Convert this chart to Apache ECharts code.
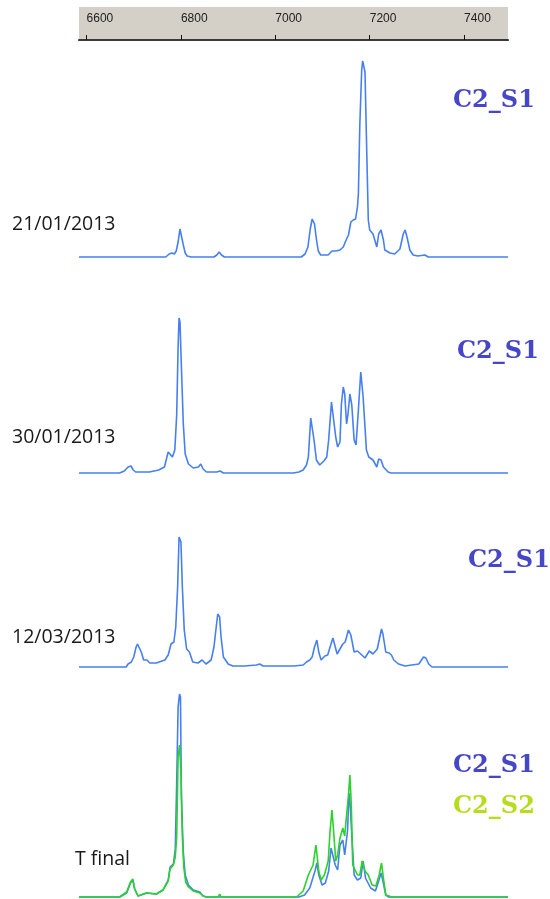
<!DOCTYPE html>
<html>
<head>
<meta charset="utf-8">
<script src="https://cdn.jsdelivr.net/npm/echarts@6/dist/echarts.min.js"></script>
<style>
html,body{margin:0;padding:0;background:#fff;}
#chart{width:550px;height:899px;}
</style>
</head>
<body>
<div id="chart"></div>
<script>
// Wavenumber range and ruler tick labels
var waveMin = 6584, waveMax = 7493;
var rulerTicks = [6600, 6800, 7000, 7200, 7400];

// Panel labels
var dateLabels = ['21/01/2013', '30/01/2013', '12/03/2013', 'T final'];
var sampleS1 = 'C2_S1';
var sampleS2 = 'C2_S2';

// Spectra: [wavenumber, intensity]
var spec_21_01_S1 = [[6584,0],[6768,0],[6775,3],[6781,4],[6786,3],[6790,6],[6794,15],[6798,28],[6800,30],[6802,26],[6805,12],[6809,4],[6813,1],[6822,0],[6870,0],[6876,2],[6881,5],[6886,2],[6892,0],[7055,0],[7063,3],[7069,10],[7074,28],[7078,38],[7080,39],[7083,33],[7087,18],[7091,6],[7096,2],[7103,2],[7112,2],[7120,6],[7128,6],[7137,7],[7144,10],[7150,17],[7155,22],[7160,35],[7165,37],[7170,38],[7174,50],[7176,63],[7179,132],[7183,187],[7185,196],[7188,194],[7190,185],[7193,120],[7197,37],[7200,27],[7207,23],[7215,10],[7219,23],[7224,27],[7229,17],[7232,7],[7243,4],[7253,3],[7264,8],[7271,23],[7275,27],[7279,20],[7285,7],[7292,2],[7302,1],[7317,2],[7324,0],[7493,0]];

var spec_30_01_S1 = [[6584,0],[6670,0],[6680,2],[6688,6],[6694,7],[6699,3],[6704,1],[6733,1],[6753,3],[6765,6],[6769,8],[6773,21],[6777,23],[6782,16],[6787,23],[6791,58],[6794,126],[6796,155],[6798,151],[6801,106],[6805,49],[6809,19],[6816,9],[6826,5],[6837,6],[6842,9],[6847,4],[6854,1],[6876,1],[6883,2],[6890,0],[7038,0],[7050,1],[7059,3],[7066,8],[7070,16],[7075,55],[7078,56],[7082,33],[7087,13],[7094,8],[7103,12],[7109,16],[7113,33],[7119,71],[7123,71],[7128,36],[7132,26],[7137,31],[7140,69],[7144,86],[7147,79],[7151,49],[7154,59],[7158,79],[7162,68],[7167,33],[7171,28],[7176,63],[7181,101],[7184,103],[7186,76],[7190,46],[7193,23],[7198,16],[7207,13],[7215,6],[7219,14],[7224,13],[7229,6],[7239,1],[7245,0],[7493,0]];

var spec_12_03_S1 = [[6584,0],[6605,0],[6607,1],[6609,0],[6626,0],[6628,1],[6630,0],[6684,0],[6688,3],[6695,5],[6700,10],[6705,20],[6708,23],[6711,25],[6716,15],[6721,7],[6728,7],[6734,4],[6748,4],[6766,7],[6773,12],[6779,23],[6785,25],[6789,40],[6793,80],[6796,130],[6798,131],[6800,125],[6803,80],[6807,37],[6812,18],[6818,15],[6825,5],[6836,4],[6845,7],[6853,3],[6864,7],[6870,20],[6874,37],[6878,53],[6880,52],[6882,50],[6885,30],[6890,10],[6900,3],[6910,1],[6935,1],[6960,2],[6967,3],[6974,1],[6984,1],[7040,1],[7059,2],[7066,5],[7073,7],[7078,10],[7083,20],[7088,27],[7092,15],[7097,7],[7105,11],[7111,12],[7116,20],[7122,29],[7127,20],[7131,13],[7137,18],[7143,23],[7148,25],[7155,37],[7160,32],[7167,15],[7174,16],[7181,13],[7190,9],[7199,16],[7207,13],[7216,18],[7225,38],[7228,33],[7234,15],[7241,14],[7246,12],[7251,7],[7261,3],[7275,1],[7289,2],[7304,3],[7314,10],[7319,9],[7325,3],[7332,0],[7386,0],[7388,1],[7390,0],[7493,0]];

var spec_final_S1 = [[6584,0],[6670,0],[6685,4],[6693,14],[6698,17],[6702,8],[6709,1],[6727,4],[6748,3],[6762,7],[6773,17],[6777,30],[6784,33],[6788,48],[6791,115],[6794,190],[6797,203],[6799,200],[6801,100],[6805,45],[6809,22],[6816,12],[6826,7],[6840,5],[6847,1],[6854,0],[6879,0],[6882,2],[6885,0],[7050,0],[7062,2],[7073,9],[7084,26],[7088,34],[7092,22],[7099,12],[7106,14],[7113,26],[7118,49],[7122,51],[7127,32],[7132,27],[7137,52],[7143,57],[7147,42],[7153,66],[7156,104],[7159,89],[7162,62],[7167,22],[7174,17],[7181,19],[7186,36],[7191,19],[7202,9],[7212,6],[7219,16],[7224,24],[7228,16],[7234,2],[7240,0],[7493,0]];

var spec_final_S2 = [[6584,0],[6670,0],[6685,5],[6693,15],[6698,18],[6702,8],[6709,1],[6727,4],[6748,3],[6762,7],[6773,16],[6777,28],[6784,32],[6788,40],[6791,60],[6794,140],[6797,152],[6800,125],[6803,60],[6806,30],[6810,15],[6816,10],[6826,6],[6840,4],[6847,1],[6854,0],[6879,0],[6882,3],[6885,0],[7045,0],[7059,6],[7070,22],[7080,32],[7086,52],[7088,52],[7092,26],[7097,17],[7104,22],[7112,36],[7116,66],[7120,87],[7123,69],[7128,36],[7132,42],[7137,59],[7143,69],[7147,61],[7151,82],[7155,102],[7158,122],[7161,92],[7164,32],[7168,32],[7174,22],[7179,22],[7184,36],[7190,26],[7197,22],[7205,12],[7213,11],[7220,22],[7225,34],[7229,19],[7234,2],[7247,0],[7493,0]];

var panelMax = [200, 160, 135, 205];

var blue = '#4680f0';
var green = '#2ad22a';
var labelBlue = '#4646c8';
var labelGreen = '#b6dc1e';

var chart = echarts.init(document.getElementById('chart'), null, {renderer: 'canvas'});

var L = 79, R = 42;
var panelTops = [57, 313, 532, 692];

var grids = [{left: L, right: R, top: 32, height: 8}];
panelTops.forEach(function (t, i) {
  grids.push({left: L, right: R, top: t, height: panelMax[i]});
});

var xAxes = [
  {
    gridIndex: 0, type: 'value', position: 'top', min: waveMin, max: waveMax,
    axisLine: {show: true, lineStyle: {color: '#111', width: 1}},
    axisTick: {show: true, inside: false, length: 5, customValues: rulerTicks, lineStyle: {color: '#111'}},
    axisLabel: {show: true, customValues: rulerTicks, margin: 7, align: 'left', fontSize: 12,
      fontFamily: 'Liberation Sans', color: '#222', formatter: function (v) { return String(v); }},
    splitLine: {show: false}
  },
  {
    gridIndex: 0, type: 'value', position: 'bottom', min: waveMin, max: waveMax,
    axisLine: {show: true, lineStyle: {color: '#3a3a3a', width: 2}},
    axisTick: {show: false}, axisLabel: {show: false}, splitLine: {show: false}
  }
];
var yAxes = [{gridIndex: 0, type: 'value', show: false, min: 0, max: 1, splitLine: {show: false}}];
for (var i = 0; i < 4; i++) {
  xAxes.push({gridIndex: i + 1, type: 'value', show: false, min: waveMin, max: waveMax, splitLine: {show: false}});
  yAxes.push({gridIndex: i + 1, type: 'value', show: false, min: 0, max: panelMax[i], splitLine: {show: false}});
}

// panel p = 0..3 -> xAxis index p+2, yAxis index p+1
function lineSeries(data, p, color, z) {
  return {
    type: 'line', data: data, xAxisIndex: p + 2, yAxisIndex: p + 1,
    showSymbol: false, symbol: 'none', animation: false, clip: false, z: z,
    lineStyle: {color: color, width: 1.6}
  };
}

var series = [
  lineSeries(spec_21_01_S1, 0, blue, 2),
  lineSeries(spec_30_01_S1, 1, blue, 2),
  lineSeries(spec_12_03_S1, 2, blue, 2),
  lineSeries(spec_final_S1, 3, blue, 2),
  lineSeries(spec_final_S2, 3, green, 3)
];

var serifFont = 'bold 24px "DejaVu Serif", "Liberation Serif", serif';
var dateFont = '19.5px "Open Sans", sans-serif';

var s1LabelPos = [[453, 101], [457, 352], [468, 561], [453, 766]];
var dateLabelPos = [[12, 224], [12, 437], [12, 637], [75, 859]];

var graphics = [
  {type: 'rect', z: -10, silent: true, shape: {x: 79, y: 7, width: 429, height: 33}, style: {fill: '#d4d0c8'}}
];
s1LabelPos.forEach(function (p) {
  graphics.push({type: 'text', x: p[0], y: p[1], silent: true,
    style: {text: sampleS1, font: serifFont, fill: labelBlue, align: 'left', verticalAlign: 'middle'}});
});
graphics.push({type: 'text', x: 453, y: 807, silent: true,
  style: {text: sampleS2, font: serifFont, fill: labelGreen, align: 'left', verticalAlign: 'middle'}});
dateLabelPos.forEach(function (p, i) {
  graphics.push({type: 'text', x: p[0], y: p[1], silent: true,
    style: {text: dateLabels[i], font: dateFont, fill: '#1a1a1a', align: 'left', verticalAlign: 'middle'}});
});

chart.setOption({
  animation: false,
  backgroundColor: '#ffffff',
  grid: grids,
  xAxis: xAxes,
  yAxis: yAxes,
  series: series,
  graphic: {elements: graphics}
});
</script>
</body>
</html>
